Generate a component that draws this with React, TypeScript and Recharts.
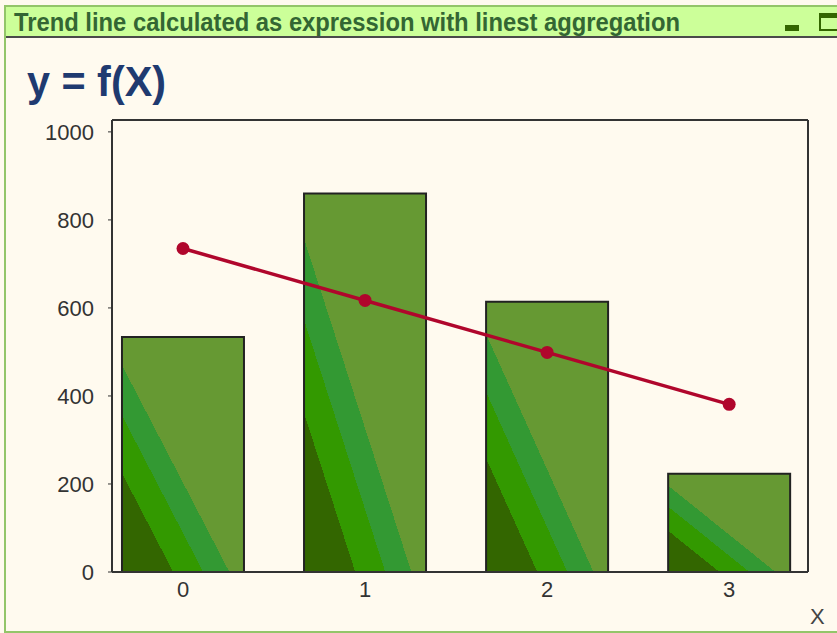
import { ComposedChart, Bar, Line, XAxis, YAxis } from "recharts";

// values
const xValues = [0, 1, 2, 3];
const barValues = [534, 860, 614, 223];
const trendValues = [735, 617, 499, 381];
const yTicks = [0, 200, 400, 600, 800, 1000];

const data = xValues.map((x, i) => ({ x, y: barValues[i], trend: trendValues[i] }));

const FONT = "'Liberation Sans', Arial, sans-serif";
const X_DOMAIN: [number, number] = [-0.39, 3.433];
const Y_DOMAIN: [number, number] = [0, 1027];

export default function App() {
  return (
    <div
      style={{
        position: "absolute",
        left: 0,
        top: 0,
        width: 837,
        height: 633,
        overflow: "hidden",
        background: "#fffaef",
        fontFamily: FONT,
      }}
    >
      {/* window frame */}
      <div
        style={{
          position: "absolute",
          left: 4,
          top: 5,
          width: 850,
          height: 624,
          border: "2px solid #93c569",
        }}
      />

      {/* title bar */}
      <svg width={837} height={40} style={{ position: "absolute", left: 0, top: 0 }}>
        <rect x={6} y={7} width={831} height={29} fill="#ccff99" />
        <line x1={6} y1={37} x2={837} y2={37} stroke="#4a4a4a" strokeWidth={2} />
        <text
          x={14}
          y={30.5}
          fontSize={25}
          fontWeight="bold"
          fill="#336633"
          textLength={666}
          lengthAdjust="spacingAndGlyphs"
          fontFamily={FONT}
        >
          Trend line calculated as expression with linest aggregation
        </text>
        {/* minimize / maximize */}
        <rect x={785} y={25} width={14} height={6} fill="#336600" />
        <rect x={820} y={14} width={20} height={16} fill="none" stroke="#336600" strokeWidth={2} />
        <rect x={820} y={13} width={20} height={5} fill="#336600" />
      </svg>

      {/* chart title */}
      <svg width={300} height={60} style={{ position: "absolute", left: 0, top: 50 }}>
        <text
          x={27}
          y={46}
          fontSize={42}
          fontWeight="bold"
          fill="#1f3a70"
          textLength={139}
          lengthAdjust="spacingAndGlyphs"
          fontFamily={FONT}
        >
          y = f(X)
        </text>
      </svg>

      <div style={{ position: "absolute", left: 0, top: 0 }}>
        <ComposedChart
          width={837}
          height={633}
          data={data}
          margin={{ top: 119, right: 28, bottom: 31, left: 52 }}
        >
          <defs>
            <linearGradient id="barStripes" x1="0" y1="1" x2="1" y2="0">
              <stop offset="0" stopColor="#336600" />
              <stop offset="0.21" stopColor="#336600" />
              <stop offset="0.21" stopColor="#339900" />
              <stop offset="0.333" stopColor="#339900" />
              <stop offset="0.333" stopColor="#339933" />
              <stop offset="0.44" stopColor="#339933" />
              <stop offset="0.44" stopColor="#669933" />
              <stop offset="1" stopColor="#669933" />
            </linearGradient>
          </defs>
          <XAxis
            dataKey="x"
            type="number"
            domain={X_DOMAIN}
            ticks={xValues}
            allowDataOverflow
            height={30}
            tickLine={false}
            axisLine={{ stroke: "#333", strokeWidth: 2 }}
            tick={{ fontSize: 22, fill: "#333", fontFamily: FONT }}
            tickMargin={3}
          />
          {/* top and right axes only close the plot frame */}
          <XAxis
            xAxisId="top"
            dataKey="x"
            type="number"
            domain={X_DOMAIN}
            allowDataOverflow
            orientation="top"
            height={1}
            tick={false}
            tickLine={false}
            axisLine={{ stroke: "#333", strokeWidth: 2 }}
          />
          <YAxis
            domain={Y_DOMAIN}
            ticks={yTicks}
            allowDataOverflow
            width={60}
            tickSize={4}
            tickMargin={14}
            tickLine={{ stroke: "#333" }}
            axisLine={{ stroke: "#333", strokeWidth: 2 }}
            tick={{ fontSize: 22, fill: "#333", fontFamily: FONT }}
          />
          <YAxis
            yAxisId="right"
            orientation="right"
            domain={Y_DOMAIN}
            allowDataOverflow
            width={1}
            tick={false}
            tickLine={false}
            axisLine={{ stroke: "#333", strokeWidth: 2 }}
          />
          <Bar
            dataKey="y"
            barSize={122}
            fill="url(#barStripes)"
            stroke="#222"
            strokeWidth={2}
            isAnimationActive={false}
          />
          <Line
            xAxisId="top"
            yAxisId="right"
            dataKey="trend"
            stroke="#b0062c"
            strokeWidth={3.5}
            dot={{ r: 6.5, fill: "#b0062c", stroke: "none" }}
            activeDot={false}
            isAnimationActive={false}
          />
        </ComposedChart>
      </div>

      {/* axis title */}
      <div
        style={{
          position: "absolute",
          left: 810,
          top: 604,
          fontSize: 22,
          color: "#444",
          fontFamily: FONT,
        }}
      >
        X
      </div>
    </div>
  );
}
